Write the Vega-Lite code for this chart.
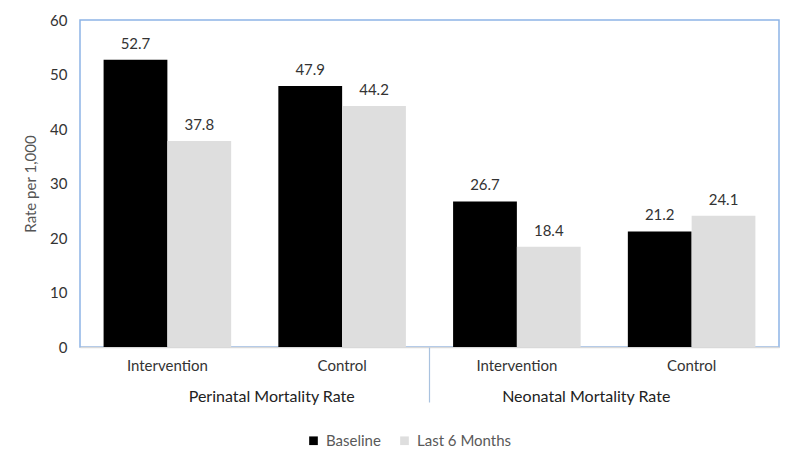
{
  "$schema": "https://vega.github.io/schema/vega-lite/v6.json",
  "width": 699,
  "height": 327,
  "autosize": "none",
  "padding": {"left": 80, "top": 20, "right": 21, "bottom": 121},
  "background": "white",
  "config": {
    "font": "Lato",
    "view": {"stroke": "#8db4e6", "strokeWidth": 1.5}
  },
  "data": {
    "values": [
      {"measure": "Perinatal Mortality Rate", "slot": "Perinatal Mortality Rate|Intervention", "period": "Baseline", "rate": 52.7},
      {"measure": "Perinatal Mortality Rate", "slot": "Perinatal Mortality Rate|Intervention", "period": "Last 6 Months", "rate": 37.8},
      {"measure": "Perinatal Mortality Rate", "slot": "Perinatal Mortality Rate|Control", "period": "Baseline", "rate": 47.9},
      {"measure": "Perinatal Mortality Rate", "slot": "Perinatal Mortality Rate|Control", "period": "Last 6 Months", "rate": 44.2},
      {"measure": "Neonatal Mortality Rate", "slot": "Neonatal Mortality Rate|Intervention", "period": "Baseline", "rate": 26.7},
      {"measure": "Neonatal Mortality Rate", "slot": "Neonatal Mortality Rate|Intervention", "period": "Last 6 Months", "rate": 18.4},
      {"measure": "Neonatal Mortality Rate", "slot": "Neonatal Mortality Rate|Control", "period": "Baseline", "rate": 21.2},
      {"measure": "Neonatal Mortality Rate", "slot": "Neonatal Mortality Rate|Control", "period": "Last 6 Months", "rate": 24.1}
    ]
  },
  "layer": [
    {
      "layer": [
        {
          "mark": {"type": "bar"},
          "encoding": {
            "x": {
              "field": "slot", "type": "nominal", "sort": null,
              "scale": {"type": "band", "paddingInner": 0.27, "paddingOuter": 0.135},
              "axis": {
                "orient": "bottom", "title": null,
                "labelExpr": "split(datum.label, '|')[1]",
                "labelAngle": 0, "labelFontSize": 15, "labelColor": "#333333",
                "labelPadding": 11, "ticks": false,
                "domainColor": "#d9d9d9", "domainWidth": 1.5
              }
            },
            "xOffset": {"field": "period", "type": "nominal", "sort": ["Baseline", "Last 6 Months"], "scale": {"paddingInner": 0, "paddingOuter": 0}},
            "y": {
              "field": "rate", "type": "quantitative",
              "scale": {"domain": [0, 60], "nice": false},
              "axis": {
                "title": "Rate per 1,000", "titleFontSize": 15, "titleFontWeight": "normal", "titleColor": "#555555",
                "titlePadding": 11,
                "values": [0, 10, 20, 30, 40, 50, 60],
                "grid": false, "ticks": false, "domain": false,
                "labelFontSize": 15, "labelColor": "#333333", "labelPadding": 13
              }
            },
            "color": {
              "field": "period", "type": "nominal",
              "scale": {"domain": ["Baseline", "Last 6 Months"], "range": ["#000000", "#dedede"]},
              "legend": {
                "title": null, "orient": "none", "direction": "horizontal",
                "legendX": 226, "legendY": 413,
                "symbolType": "square", "symbolSize": 75, "symbolStrokeWidth": 0,
                "labelFontSize": 15, "labelColor": "#595959", "columnPadding": 16, "labelOffset": 5
              }
            }
          }
        },
        {
          "mark": {"type": "text", "baseline": "bottom", "dy": -8, "fontSize": 15, "color": "#333333"},
          "encoding": {
            "x": {"field": "slot", "type": "nominal", "sort": null},
            "xOffset": {"field": "period", "type": "nominal", "sort": ["Baseline", "Last 6 Months"]},
            "y": {"field": "rate", "type": "quantitative"},
            "text": {"field": "rate", "type": "quantitative", "format": ".1f"}
          }
        }
      ]
    },
    {
      "mark": {"type": "text", "text": "", "opacity": 0},
      "encoding": {
        "x": {
          "field": "measure", "type": "nominal", "sort": ["Perinatal Mortality Rate", "Neonatal Mortality Rate"],
          "scale": {"type": "band", "paddingInner": 0, "paddingOuter": 0},
          "axis": {
            "orient": "bottom", "title": null, "domain": false,
            "labelAngle": 0, "labelFontSize": 16, "labelColor": "#222222",
            "bandPosition": 0,
            "ticks": true, "tickSize": 55, "tickWidth": 1.2,
            "tickColor": {"condition": {"test": "datum.value === 'Neonatal Mortality Rate'", "value": "#a9c2df"}, "value": "transparent"},
            "labelOffset": {"condition": {"test": "datum.value === 'Neonatal Mortality Rate'", "value": -18}, "value": 17},
            "labelPadding": -14,
            "labelBaseline": "top"
          }
        }
      }
    }
  ],
  "resolve": {"scale": {"x": "independent"}, "axis": {"x": "independent"}}
}
